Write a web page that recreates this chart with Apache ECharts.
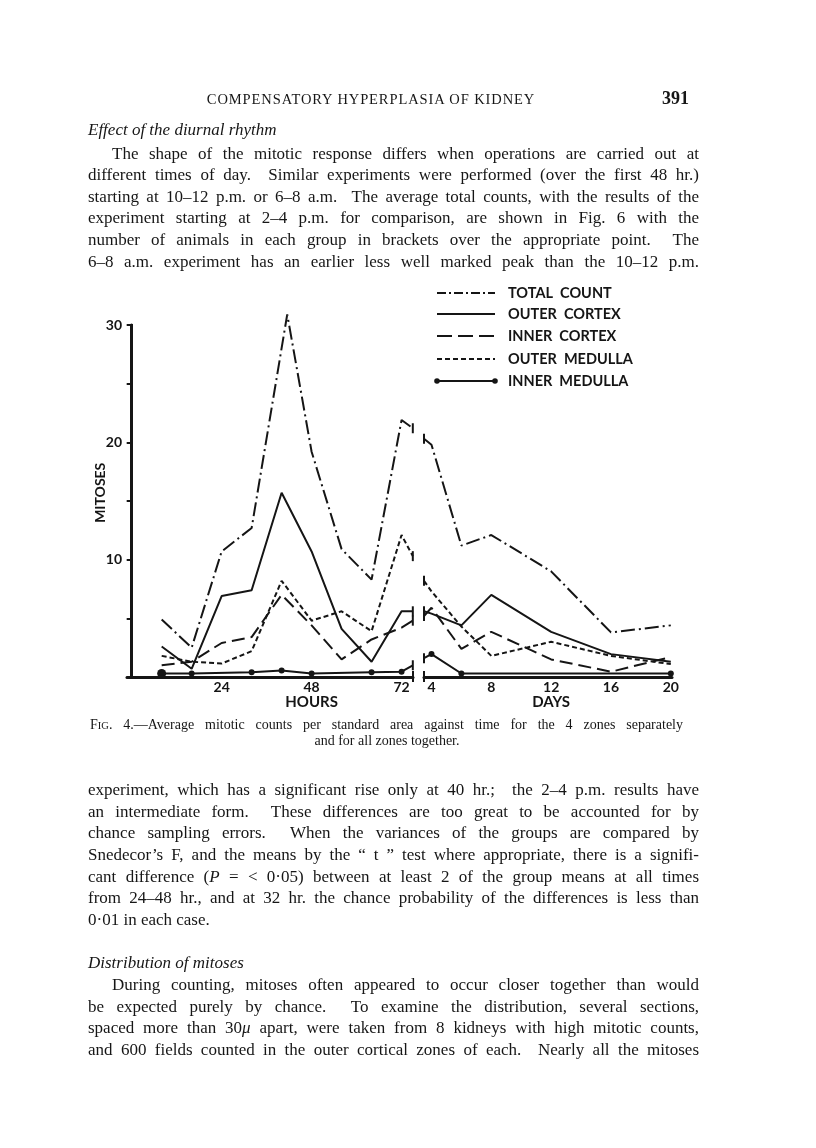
<!DOCTYPE html>
<html>
<head>
<meta charset="utf-8">
<script src="https://cdn.jsdelivr.net/npm/echarts@6/dist/echarts.min.js"></script>
<style>
  body { margin: 0; background: #fff; }
  #page { position: relative; width: 816px; height: 1148px; background: #fff; overflow: hidden; }
  #chart { position: absolute; left: 0; top: 0; width: 816px; height: 1148px; }
  .t { position: absolute; font-family: "Liberation Serif", "DejaVu Serif", serif; font-size: 17px;
       color: #161616; white-space: nowrap; line-height: 20px; }
  .j { text-align: justify; text-align-last: justify; }
  .cap { font-size: 14px; }
  .sc { font-size: 10.5px; }
  i { font-style: italic; }
</style>
</head>
<body>
<div id="page">
  <div id="chart"></div>

  <!-- page header -->
  <div class="t" style="left:171px;top:89px;width:400px;text-align:center;font-size:14.5px;letter-spacing:0.9px">COMPENSATORY HYPERPLASIA OF KIDNEY</div>
  <div class="t" style="left:662px;top:88px;font-size:18px;font-weight:bold">391</div>

  <div class="t" style="left:88px;top:120px"><i>Effect of the diurnal rhythm</i></div>
  <div class="t j" style="left:112px;top:144px;width:587px">The shape of the mitotic response differs when operations are carried out at</div>
  <div class="t j" style="left:88px;top:165px;width:611px">different times of day.&nbsp; Similar experiments were performed (over the first 48 hr.)</div>
  <div class="t j" style="left:88px;top:187px;width:611px">starting at 10–12 p.m. or 6–8 a.m.&nbsp; The average total counts, with the results of the</div>
  <div class="t j" style="left:88px;top:208px;width:611px">experiment starting at 2–4 p.m. for comparison, are shown in Fig. 6 with the</div>
  <div class="t j" style="left:88px;top:230px;width:611px">number of animals in each group in brackets over the appropriate point.&nbsp; The</div>
  <div class="t j" style="left:88px;top:252px;width:611px">6–8 a.m. experiment has an earlier less well marked peak than the 10–12 p.m.</div>

  <!-- caption -->
  <div class="t j cap" style="left:90px;top:715px;width:593px">F<span class="sc">IG</span>. 4.—Average mitotic counts per standard area against time for the 4 zones separately</div>
  <div class="t cap" style="left:187px;top:731px;width:400px;text-align:center">and for all zones together.</div>

  <div class="t j" style="left:88px;top:780px;width:611px">experiment, which has a significant rise only at 40 hr.;&nbsp; the 2–4 p.m. results have</div>
  <div class="t j" style="left:88px;top:802px;width:611px">an intermediate form.&nbsp; These differences are too great to be accounted for by</div>
  <div class="t j" style="left:88px;top:823px;width:611px">chance sampling errors.&nbsp; When the variances of the groups are compared by</div>
  <div class="t j" style="left:88px;top:845px;width:611px">Snedecor’s F, and the means by the “ t ” test where appropriate, there is a signifi-</div>
  <div class="t j" style="left:88px;top:867px;width:611px">cant difference (<i>P</i> = &lt; 0·05) between at least 2 of the group means at all times</div>
  <div class="t j" style="left:88px;top:888px;width:611px">from 24–48 hr., and at 32 hr. the chance probability of the differences is less than</div>
  <div class="t" style="left:88px;top:910px">0·01 in each case.</div>

  <div class="t" style="left:88px;top:953px"><i>Distribution of mitoses</i></div>
  <div class="t j" style="left:112px;top:975px;width:587px">During counting, mitoses often appeared to occur closer together than would</div>
  <div class="t j" style="left:88px;top:997px;width:611px">be expected purely by chance.&nbsp; To examine the distribution, several sections,</div>
  <div class="t j" style="left:88px;top:1018px;width:611px">spaced more than 30<i>μ</i> apart, were taken from 8 kidneys with high mitotic counts,</div>
  <div class="t j" style="left:88px;top:1040px;width:611px">and 600 fields counted in the outer cortical zones of each.&nbsp; Nearly all the mitoses</div>
</div>

<script>
// tick labels
var hourTicks = [24, 48, 72];
var dayTicks = [4, 8, 12, 16, 20];
var yLabels = [10, 20, 30];

// x positions (75 hr and 3.5 days are the two sides of the axis break)
var hours = [8, 16, 24, 32, 40, 48, 56, 64, 72, 75];
var totalHoursX = [8, 16, 24, 32, 41.5, 48, 56, 64, 72, 75]; // total peak is drawn a little late
var days = [3.5, 4, 6, 8, 12, 16, 20];
var imHours = [8, 16, 32, 40, 48, 64, 72, 75];
var imDays = [3.5, 4, 6, 20];

// mitoses
var totalHours        = [4.9, 2.5, 10.7, 12.7, 30.9, 19.2, 10.9, 8.3, 21.9, 21.2];
var totalDays         = [20.3, 19.8, 11.2, 12.1, 9.0, 3.8, 4.4];
var outerCortexHours  = [2.6, 0.7, 6.9, 7.4, 15.7, 10.7, 4.1, 1.3, 5.6, 5.6];
var outerCortexDays   = [5.6, 5.4, 4.4, 7.0, 3.85, 1.95, 1.3];
var innerCortexHours  = [1.0, 1.3, 2.9, 3.4, 7.0, 4.4, 1.5, 3.2, 4.2, 4.8];
var innerCortexDays   = [5.2, 5.9, 2.4, 3.85, 1.5, 0.45, 1.7];
var outerMedullaHours = [1.8, 1.3, 1.15, 2.2, 8.2, 4.8, 5.6, 3.9, 12.1, 10.3];
var outerMedullaDays  = [8.2, 7.3, 4.3, 1.8, 3.0, 1.8, 1.1];
var innerMedullaHours = [0.3, 0.3, 0.4, 0.55, 0.3, 0.4, 0.45, 1.0];
var innerMedullaDays  = [1.6, 1.95, 0.3, 0.3];

var INK = '#151515';
var SANS = 'Lato, "Open Sans", sans-serif';

var dashes = {
  total: [14, 4, 2, 4],
  outerCortex: 'solid',
  innerCortex: [13, 6],
  outerMedulla: [5, 3],
  innerMedulla: 'solid'
};

// line ends at the break get a short vertical bar
function points(xs, ys, edge, dotted) {
  return xs.map(function (x, i) {
    if (x === edge) return { value: [x, ys[i]], symbol: 'rect', symbolSize: [2, 10] };
    if (dotted && i === 0 && edge === 75) return { value: [x, ys[i]], symbolSize: 9 };
    return [x, ys[i]];
  });
}

function line(name, idx, xs, ys, edge, dash, dotted) {
  return {
    name: name,
    type: 'line',
    xAxisIndex: idx,
    yAxisIndex: idx,
    data: points(xs, ys, edge, dotted),
    showSymbol: true,
    symbol: dotted ? 'circle' : 'none',
    symbolSize: 6,
    clip: false,
    silent: true,
    lineStyle: { color: INK, width: 2, type: dash },
    itemStyle: { color: INK },
    z: dotted ? 4 : 3
  };
}

var axisFont = { color: INK, fontFamily: SANS, fontWeight: 'bold', fontSize: 14 };

var chart = echarts.init(document.getElementById('chart'), null, { renderer: 'canvas' });

chart.setOption({
  animation: false,
  backgroundColor: 'transparent',
  grid: [
    { left: 127, top: 325, width: 286, height: 352 },
    { left: 424, top: 325, width: 248, height: 352 }
  ],
  xAxis: [
    {
      type: 'value', gridIndex: 0, min: -1.25, max: 75.05,
      axisLine: { lineStyle: { color: INK, width: 3 } },
      axisTick: { show: false },
      splitLine: { show: false },
      axisLabel: Object.assign({ customValues: hourTicks, margin: 3 }, axisFont)
    },
    {
      type: 'value', gridIndex: 1, min: 3.5, max: 20.08,
      axisLine: { lineStyle: { color: INK, width: 3 } },
      axisTick: { show: false },
      splitLine: { show: false },
      axisLabel: Object.assign({ customValues: dayTicks, margin: 3 }, axisFont)
    }
  ],
  yAxis: [
    {
      type: 'value', gridIndex: 0, min: 0, max: 30, interval: 5,
      axisLine: { show: true, lineStyle: { color: INK, width: 3 } },
      axisTick: { show: true, length: 5, lineStyle: { color: INK, width: 2 } },
      splitLine: { show: false },
      axisLabel: Object.assign({
        margin: 5,
        formatter: function (v) { return yLabels.indexOf(v) >= 0 ? String(v) : ''; }
      }, axisFont)
    },
    { type: 'value', gridIndex: 1, min: 0, max: 30, show: false }
  ],
  series: [
    line('TOTAL COUNT', 0, totalHoursX, totalHours, 75, dashes.total),
    line('OUTER CORTEX', 0, hours, outerCortexHours, 75, dashes.outerCortex),
    line('INNER CORTEX', 0, hours, innerCortexHours, 75, dashes.innerCortex),
    line('OUTER MEDULLA', 0, hours, outerMedullaHours, 75, dashes.outerMedulla),
    line('INNER MEDULLA', 0, imHours, innerMedullaHours, 75, dashes.innerMedulla, true),
    line('TOTAL COUNT', 1, days, totalDays, 3.5, dashes.total),
    line('OUTER CORTEX', 1, days, outerCortexDays, 3.5, dashes.outerCortex),
    line('INNER CORTEX', 1, days, innerCortexDays, 3.5, dashes.innerCortex),
    line('OUTER MEDULLA', 1, days, outerMedullaDays, 3.5, dashes.outerMedulla),
    line('INNER MEDULLA', 1, imDays, innerMedullaDays, 3.5, dashes.innerMedulla, true)
  ]
});

// axis names, break bars and the legend key
var L = function (p) { return chart.convertToPixel({ xAxisIndex: 0, yAxisIndex: 0 }, p); };
var R = function (p) { return chart.convertToPixel({ xAxisIndex: 1, yAxisIndex: 1 }, p); };
var leftEnd = L([75.05, 0]), rightStart = R([3.5, 0]), top30 = L([-1.25, 30]);
var hoursPos = L([48, 0]), daysPos = R([12, 0]), mitPos = L([-1.25, 15.7]);

var legendRows = [
  { name: 'TOTAL COUNT', dash: [9, 3, 2, 3], y: 293 },
  { name: 'OUTER CORTEX', dash: null, y: 314 },
  { name: 'INNER CORTEX', dash: [15, 6], y: 336 },
  { name: 'OUTER MEDULLA', dash: [5, 3], y: 359 },
  { name: 'INNER MEDULLA', dash: null, y: 381, dots: true }
];

var graphics = [
  { type: 'line', shape: { x1: leftEnd[0], y1: leftEnd[1] - 6, x2: leftEnd[0], y2: leftEnd[1] + 5 }, style: { stroke: INK, lineWidth: 2 } },
  { type: 'line', shape: { x1: rightStart[0], y1: rightStart[1] - 6, x2: rightStart[0], y2: rightStart[1] + 5 }, style: { stroke: INK, lineWidth: 2 } },
  { type: 'line', shape: { x1: top30[0], y1: top30[1], x2: top30[0] + 6, y2: top30[1] }, style: { stroke: INK, lineWidth: 2 } },
  { type: 'text', x: hoursPos[0], y: 702, style: { text: 'HOURS', font: 'bold 15px ' + SANS, fill: INK, textAlign: 'center', textVerticalAlign: 'middle' } },
  { type: 'text', x: daysPos[0], y: 702, style: { text: 'DAYS', font: 'bold 15px ' + SANS, fill: INK, textAlign: 'center', textVerticalAlign: 'middle' } },
  { type: 'text', x: mitPos[0] - 27, y: mitPos[1], rotation: Math.PI / 2,
    style: { text: 'MITOSES', font: 'bold 14px ' + SANS, fill: INK, textAlign: 'center', textVerticalAlign: 'middle' } }
];

legendRows.forEach(function (r) {
  graphics.push({ type: 'line', shape: { x1: 437, y1: r.y, x2: 495, y2: r.y },
    style: { stroke: INK, lineWidth: 2, lineDash: r.dash } });
  if (r.dots) {
    graphics.push({ type: 'circle', shape: { cx: 437, cy: r.y, r: 2.8 }, style: { fill: INK } });
    graphics.push({ type: 'circle', shape: { cx: 495, cy: r.y, r: 2.8 }, style: { fill: INK } });
  }
  graphics.push({ type: 'text', x: 508, y: r.y,
    style: { text: r.name.split(' ').join('  '), font: 'bold 14.5px ' + SANS, fill: INK, textVerticalAlign: 'middle' } });
});

chart.setOption({ graphic: graphics });
</script>
</body>
</html>
